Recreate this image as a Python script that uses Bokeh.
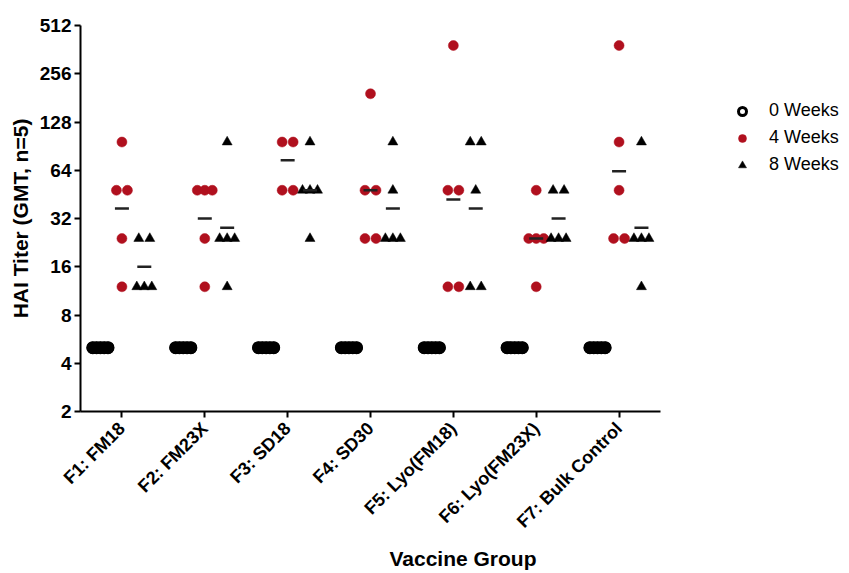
import math
from collections import Counter, defaultdict
from bokeh.plotting import figure
from bokeh.models import (Range1d, FixedTicker, BasicTickFormatter, Legend,
                          LegendItem, ColumnDataSource)
from bokeh.embed import file_html
from bokeh.resources import INLINE

# ---------------- data ----------------
groups = ["F1: FM18", "F2: FM23X", "F3: SD18", "F4: SD30",
          "F5: Lyo(FM18)", "F6: Lyo(FM23X)", "F7: Bulk Control"]

wk0 = [[5, 5, 5, 5, 5] for _ in groups]
wk4 = [
    [96, 48, 48, 24, 12],
    [48, 48, 48, 24, 12],
    [96, 96, 48, 48],
    [192, 48, 48, 24, 24],
    [384, 48, 48, 12, 12],
    [48, 24, 24, 24, 12],
    [384, 96, 48, 24, 24],
]
wk8 = [
    [24, 24, 12, 12, 12],
    [96, 24, 24, 24, 12],
    [96, 48, 48, 48, 24],
    [96, 48, 24, 24, 24],
    [96, 96, 48, 12, 12],
    [48, 48, 24, 24, 24],
    [96, 24, 24, 24, 12],
]
gmt0 = [5, 5, 5, 5, 5, 5, 5]
gmt4 = [37, 32, 74, 48, 42, 24, 63]
gmt8 = [16, 28, 48, 37, 37, 32, 28]

y_ticks = [2, 4, 8, 16, 32, 64, 128, 256, 512]
series_labels = ["0 Weeks", "4 Weeks", "8 Weeks"]

# ---------------- layout helpers ----------------
W, H = 845, 572
LEFT, TOP, BOTTOM = 80, 25, 161
PX_PER_UNIT = 580 / 7.0
frame_w = W - LEFT
x_start = -0.5
x_end = x_start + frame_w / PX_PER_UNIT

col_off = {0: -0.26, 4: 0.0, 8: 0.27}
RED = "#B0101E"


def spread(vals, center, step_px):
    counts = Counter(vals)
    seen = defaultdict(int)
    xs = []
    for v in vals:
        k = counts[v]
        j = seen[v]
        seen[v] += 1
        st = step_px(k)
        xs.append(center + (j - (k - 1) / 2.0) * st / PX_PER_UNIT)
    return xs


def pair_step(k):
    return 0 if k == 1 else (11.0 if k == 2 else 7.5)


def build(series, off, step):
    xs, ys = [], []
    for i, vals in enumerate(series):
        xs += spread(vals, i + off, step)
        ys += vals
    return ColumnDataSource(dict(x=xs, y=ys))


src0 = build(wk0, col_off[0], lambda k: 3.8)
src4 = build(wk4, col_off[4], pair_step)
src8 = build(wk8, col_off[8], pair_step)

mx, my = [], []
for i in range(len(groups)):
    for off, g in ((col_off[4], gmt4), (col_off[8], gmt8)):
        mx.append(i + off)
        my.append(g[i])
srcm = ColumnDataSource(dict(x=mx, y=my))

# ---------------- figure ----------------
p = figure(width=W, height=H, y_axis_type="log",
           x_range=Range1d(x_start, x_end), y_range=Range1d(2, 512),
           output_backend="svg", toolbar_location=None,
           min_border_left=LEFT, min_border_top=TOP,
           min_border_bottom=BOTTOM, min_border_right=0)
p.outline_line_color = None
p.xgrid.visible = False
p.ygrid.visible = False

# 0 weeks: open rings that overlap into a solid black band
p.scatter("x", "y", source=src0, marker="circle", size=10,
          fill_color="black", line_color="black", line_width=2.5)
r0 = p.scatter("x", "y", source=src0, marker="circle", size=10,
               fill_alpha=0, line_color="black", line_width=3)
r4 = p.scatter("x", "y", source=src4, marker="circle", size=10,
               fill_color=RED, line_color=RED, line_width=0.5)
r8 = p.scatter("x", "y", source=src8, marker="triangle", size=10,
               fill_color="black", line_color="black", line_width=0.5)
p.scatter("x", "y", source=srcm, marker="dash", size=14,
          line_color="#222222", line_width=2.5)

# axes
FONT = "Liberation Sans"
xa = p.xaxis[0]
xa.ticker = FixedTicker(ticks=list(range(len(groups))))
xa.major_label_overrides = {i: g for i, g in enumerate(groups)}
xa.bounds = (-0.5, 6.5)
xa.major_label_orientation = math.pi / 4
xa.axis_label = "Vaccine Group"

ya = p.yaxis[0]
ya.ticker = FixedTicker(ticks=y_ticks)
ya.formatter = BasicTickFormatter()
ya.axis_label = "HAI Titer (GMT, n=5)"

for ax in (xa, ya):
    ax.axis_line_width = 2
    ax.axis_line_color = "black"
    ax.major_tick_line_width = 2
    ax.major_tick_line_color = "black"
    ax.major_tick_out = 6
    ax.major_tick_in = 0
    ax.minor_tick_line_color = None
    ax.major_label_text_font = FONT
    ax.major_label_text_font_style = "bold"
    ax.major_label_text_color = "black"
    ax.axis_label_text_font = FONT
    ax.axis_label_text_font_style = "bold"
    ax.axis_label_text_color = "black"
    ax.axis_label_text_font_size = "21px"

ya.major_label_text_font_size = "19px"
xa.major_label_text_font_size = "18px"
ya.major_label_standoff = 3
xa.major_label_standoff = 8
ya.axis_label_standoff = 5
xa.axis_label_standoff = 5

legend = Legend(items=[LegendItem(label=series_labels[0], renderers=[r0]),
                       LegendItem(label=series_labels[1], renderers=[r4]),
                       LegendItem(label=series_labels[2], renderers=[r8])],
                location=(652, 236), orientation="vertical",
                glyph_width=20, glyph_height=20, label_height=20,
                spacing=6, padding=0, margin=0, label_standoff=17,
                label_text_font=FONT, label_text_font_size="18px",
                label_text_color="black",
                border_line_color=None, background_fill_alpha=0)
p.add_layout(legend)

open("out.html", "w").write(file_html(p, INLINE))
